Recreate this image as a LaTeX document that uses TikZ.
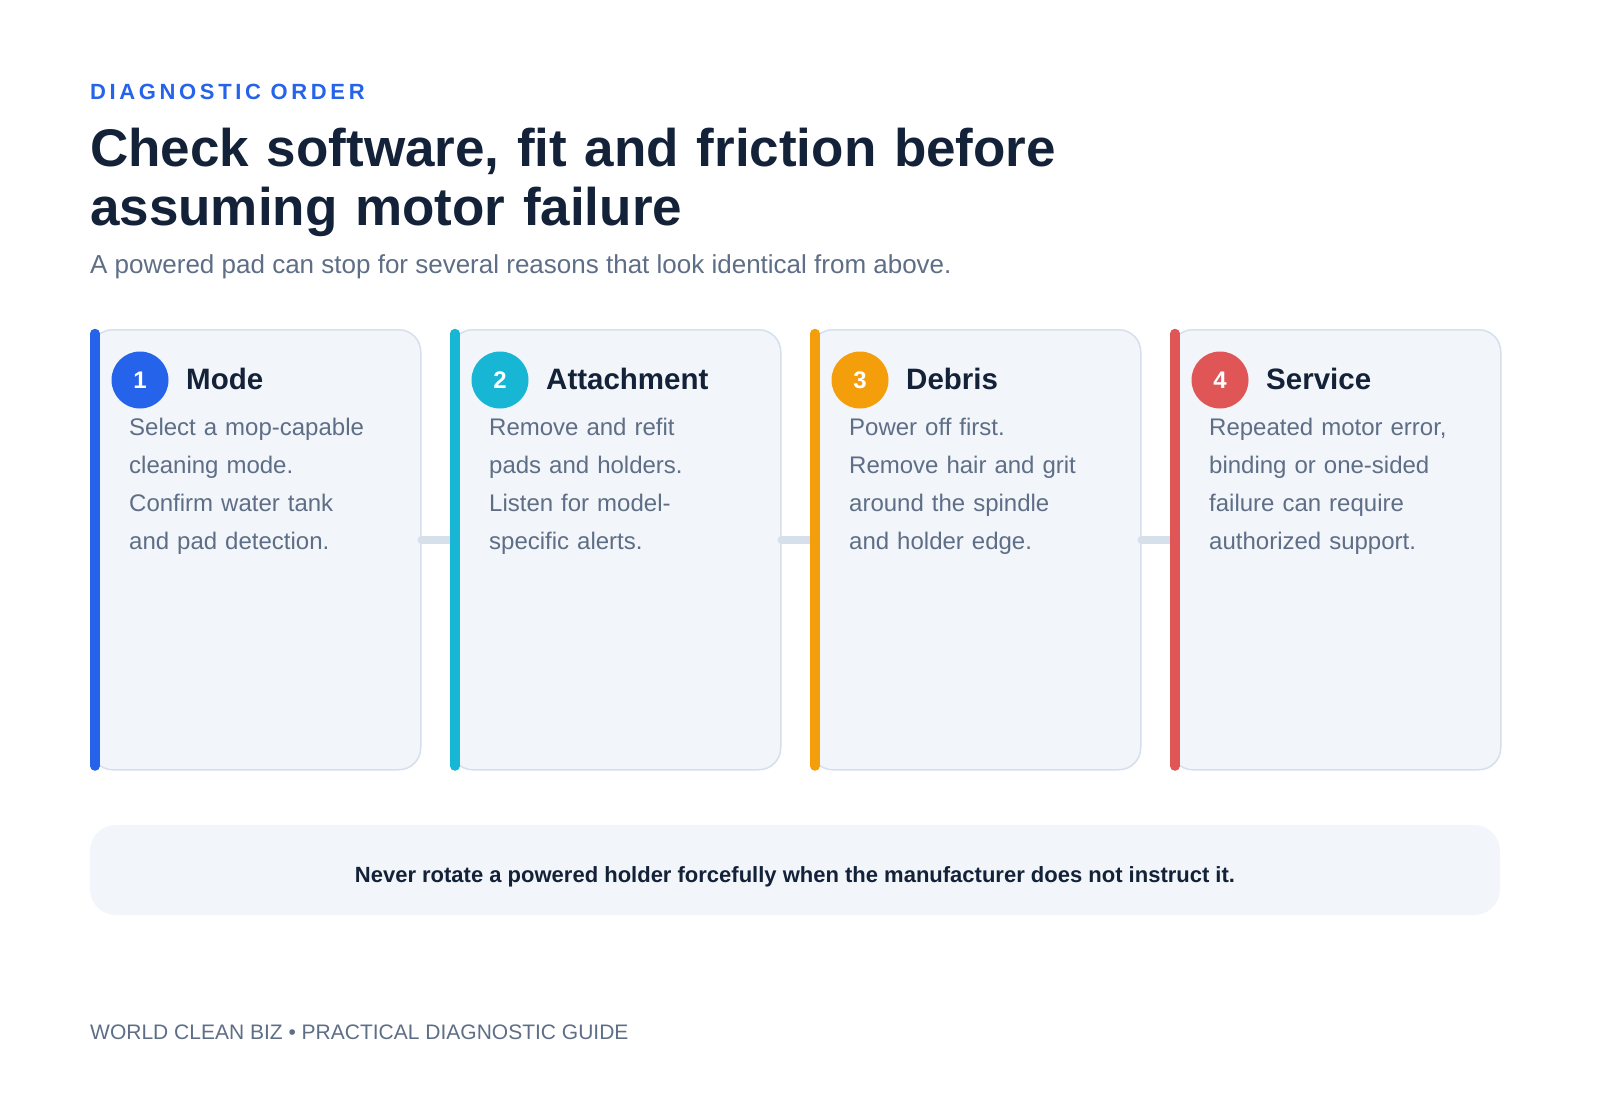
\documentclass[tikz,border=0pt]{standalone}
\usepackage{fontspec}
\setmainfont{Liberation Sans}
\newfontfamily\kickerfont[LetterSpace=16.5]{Liberation Sans}
\usetikzlibrary{positioning, calc}

\definecolor{ink}{HTML}{132238}
\definecolor{slate}{HTML}{5E6E86}
\definecolor{kicker}{HTML}{2563EB}
\definecolor{cardfill}{HTML}{F2F5FA}
\definecolor{cardline}{HTML}{D6E0EC}
\definecolor{linkgray}{HTML}{D6E0EA}
\definecolor{stepblue}{HTML}{2563EB}
\definecolor{stepcyan}{HTML}{16B6D4}
\definecolor{steporange}{HTML}{F59E0B}
\definecolor{stepred}{HTML}{E05555}

\begin{document}
\begin{tikzpicture}[
        x=1pt, y=-1pt,
        card/.style={draw=cardline, line width=1.5pt, fill=cardfill, rounded corners=22pt,
            minimum width=330pt, minimum height=440pt, inner sep=0pt, anchor=north west},
        bar/.style={line width=9.5pt, line cap=round},
        badge/.style={circle, minimum size=57pt, inner sep=0pt, text=white,
            font=\fontsize{24}{28}\selectfont\bfseries},
        head/.style={anchor=base west, inner sep=0pt, text=ink,
            font=\fontsize{29.5}{34}\selectfont\bfseries},
        body/.style={anchor=base west, inner sep=0pt, text=slate, align=left, text width=300pt,
            font=\fontsize{24}{38}\selectfont},
        link/.style={draw=linkgray, line width=8pt, line cap=round},
        note/.style={fill=cardfill, rounded corners=26pt, minimum width=1410pt, minimum height=90pt,
            inner sep=0pt},
    ]

    % Page
    \fill[white] (0,0) rectangle (1600,1100);
    \useasboundingbox (0,0) rectangle (1600,1100);

    % Header
    \node[anchor=base west, inner sep=0pt, text=kicker, font=\fontsize{22}{26}\kickerfont\bfseries]
        (kick) at (90,99) {DIAGNOSTIC ORDER};
    \node[anchor=base west, inner sep=0pt, text=ink, align=left, text width=1300pt,
        font=\fontsize{53}{59}\selectfont\bfseries]
        (title) at (90,166) {Check software, fit and friction before\\assuming motor failure};
    \node[anchor=base west, inner sep=0pt, text=slate, font=\fontsize{26}{30}\selectfont]
        (sub) at (90,273) {A powered pad can stop for several reasons that look identical from above.};

    % Draw the step cards
    \foreach \i/\x/\col/\head/\body in {
            1/90/stepblue/Mode/{Select a mop-capable\\cleaning mode.\\Confirm water tank\\and pad detection.},
            2/450/stepcyan/Attachment/{Remove and refit\\pads and holders.\\Listen for model-\\specific alerts.},
            3/810/steporange/Debris/{Power off first.\\Remove hair and grit\\around the spindle\\and holder edge.},
            4/1170/stepred/Service/{Repeated motor error,\\binding or one-sided\\failure can require\\authorized support.}} {
        \node[card] (c\i) at (\x,329) {};
        \node[badge, fill=\col] (n\i) at ($(c\i.north west)+(50,51)$) {\i};
        \node[head] (h\i) at ($(c\i.north west)+(96,60)$) {\head};
        \node[body] (b\i) at ($(c\i.north west)+(39,106)$) {\body};
    }

    % Connect neighbouring cards
    \coordinate (lk) at (0,540);
    \foreach \a/\b in {1/2, 2/3, 3/4}
        \draw[link] (c\a.east |- lk) -- (c\b.west |- lk);

    % Coloured edge of each card
    \foreach \i/\col in {1/stepblue, 2/stepcyan, 3/steporange, 4/stepred}
        \draw[bar, draw=\col] ([xshift=5pt, yshift=-4.5pt]c\i.north west) -- ([xshift=5pt, yshift=4.5pt]c\i.south west);

    % Warning and footer
    \node[note] (warn) at (795,870) {};
    \node[anchor=base, inner sep=0pt, text=ink, font=\fontsize{22}{26}\selectfont\bfseries]
        (warntext) at ($(warn.center)+(0,12)$) {Never rotate a powered holder forcefully when the manufacturer does not instruct it.};
    \node[anchor=base west, inner sep=0pt, text=slate, font=\fontsize{21}{25}\selectfont]
        (foot) at (90,1039) {WORLD CLEAN BIZ \textbullet\ PRACTICAL DIAGNOSTIC GUIDE};
\end{tikzpicture}
\end{document}
